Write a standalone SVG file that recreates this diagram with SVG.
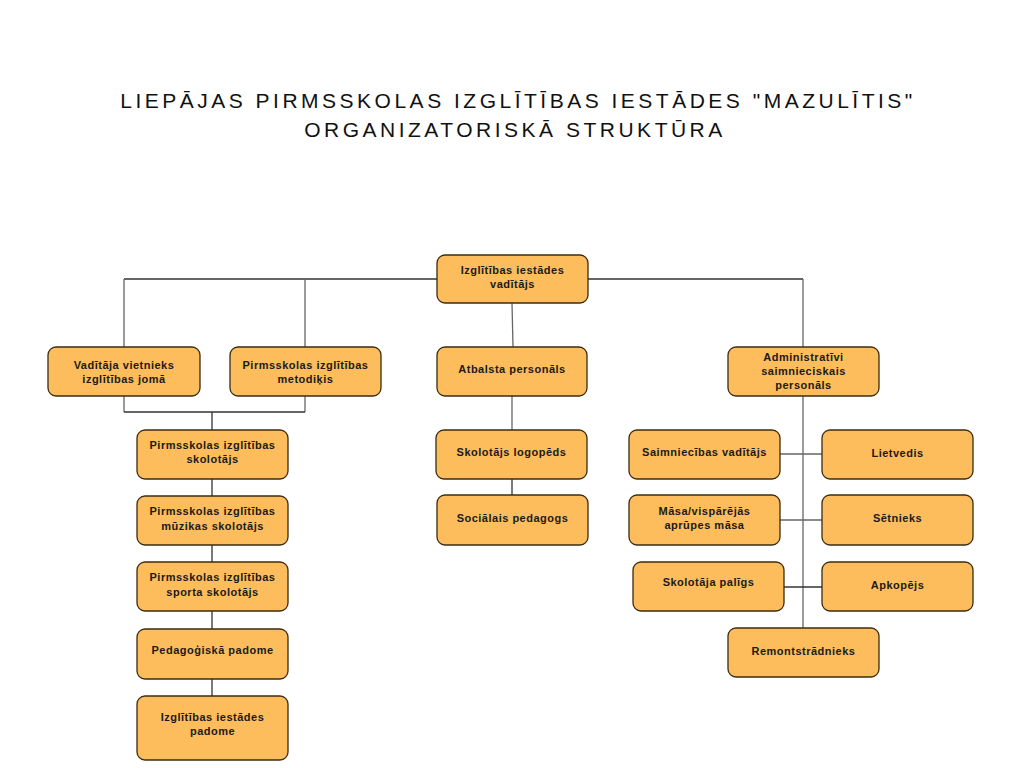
<svg xmlns="http://www.w3.org/2000/svg" width="1024" height="768" viewBox="0 0 1024 768">
<style>
.box{fill:#FDBD5C;stroke:#3b2c12;stroke-width:1.3}
.lbl{font-family:"Liberation Sans",Arial,sans-serif;font-weight:bold;font-size:11px;fill:#1a1a1a;text-anchor:middle;letter-spacing:0.5px}
.title{font-family:"Liberation Sans",Arial,sans-serif;font-size:21px;fill:#111;text-anchor:middle;letter-spacing:3.5px}
.ln{stroke:#333;stroke-width:1.3;fill:none}
.lg{stroke:#666;stroke-width:1.3;fill:none}
</style>
<rect width="1024" height="768" fill="#fff"/>
<g id="title">
<text class="title" x="518" y="108">LIEPĀJAS PIRMSSKOLAS IZGLĪTĪBAS IESTĀDES "MAZULĪTIS"</text>
<text class="title" x="515" y="137">ORGANIZATORISKĀ STRUKTŪRA</text>
</g>
<g id="connectors">
<path class="ln" d="M124,279 H437 M588,279 H803"/>
<path class="lg" d="M124,279 V347 M305,279 V347 M803,279 V347"/>
<path class="lg" d="M512,303 L513,347"/>
<path class="lg" d="M124,396 V412 M305,396 V412"/>
<path class="ln" d="M124,412 H305 M212,412 V430"/>
<path class="ln" d="M212,479 V496 M212,545 V562 M212,611 V629 M212,679 V696"/>
<path class="lg" d="M512,396 V430"/>
<path class="ln" d="M512,479 V495"/>
<path class="lg" d="M803,396 V628"/>
<path class="lg" d="M780,454 H822 M780,520 H822"/>
<path class="ln" d="M784,587 H822"/>
</g>
<g id="n-vaditajs"><rect class="box" x="437" y="255" width="151" height="48" rx="8"/><text class="lbl" x="512.5" y="274">Izglītības iestādes</text><text class="lbl" x="512.5" y="288">vadītājs</text></g>
<g id="n-vietnieks"><rect class="box" x="48" y="347" width="152" height="49" rx="8"/><text class="lbl" x="124" y="369">Vadītāja vietnieks</text><text class="lbl" x="124" y="383">izglītības jomā</text></g>
<g id="n-metodikis"><rect class="box" x="230" y="347" width="151" height="49" rx="8"/><text class="lbl" x="305.5" y="369">Pirmsskolas izglītības</text><text class="lbl" x="305.5" y="383">metodiķis</text></g>
<g id="n-atbalsta"><rect class="box" x="437" y="347" width="150" height="49" rx="8"/><text class="lbl" x="512" y="373">Atbalsta personāls</text></g>
<g id="n-admin"><rect class="box" x="728" y="347" width="151" height="49" rx="8"/><text class="lbl" x="803.5" y="361">Administratīvi</text><text class="lbl" x="803.5" y="375">saimnieciskais</text><text class="lbl" x="803.5" y="389">personāls</text></g>
<g id="n-skolotajs"><rect class="box" x="137" y="430" width="151" height="49" rx="8"/><text class="lbl" x="212.5" y="449">Pirmsskolas izglītības</text><text class="lbl" x="212.5" y="463">skolotājs</text></g>
<g id="n-muzikas"><rect class="box" x="137" y="496" width="151" height="49" rx="8"/><text class="lbl" x="212.5" y="515">Pirmsskolas izglītības</text><text class="lbl" x="212.5" y="530">mūzikas skolotājs</text></g>
<g id="n-sporta"><rect class="box" x="137" y="562" width="151" height="49" rx="8"/><text class="lbl" x="212.5" y="581">Pirmsskolas izglītības</text><text class="lbl" x="212.5" y="596">sporta skolotājs</text></g>
<g id="n-pedpadome"><rect class="box" x="137" y="629" width="151" height="50" rx="8"/><text class="lbl" x="212.5" y="654">Pedagoģiskā padome</text></g>
<g id="n-iestpadome"><rect class="box" x="137" y="696" width="151" height="64" rx="8"/><text class="lbl" x="212.5" y="721">Izglītības iestādes</text><text class="lbl" x="212.5" y="735">padome</text></g>
<g id="n-logopeds"><rect class="box" x="436" y="430" width="151" height="49" rx="8"/><text class="lbl" x="511.5" y="456">Skolotājs logopēds</text></g>
<g id="n-socped"><rect class="box" x="437" y="495" width="151" height="50" rx="8"/><text class="lbl" x="512.5" y="522">Sociālais pedagogs</text></g>
<g id="n-saimn"><rect class="box" x="629" y="430" width="151" height="49" rx="8"/><text class="lbl" x="704.5" y="456">Saimniecības vadītājs</text></g>
<g id="n-lietvedis"><rect class="box" x="822" y="430" width="151" height="49" rx="8"/><text class="lbl" x="897.5" y="457">Lietvedis</text></g>
<g id="n-masa"><rect class="box" x="629" y="495" width="151" height="50" rx="8"/><text class="lbl" x="704.5" y="515">Māsa/vispārējās</text><text class="lbl" x="704.5" y="529">aprūpes māsa</text></g>
<g id="n-setnieks"><rect class="box" x="822" y="495" width="151" height="50" rx="8"/><text class="lbl" x="897.5" y="522">Sētnieks</text></g>
<g id="n-paligs"><rect class="box" x="633" y="562" width="151" height="49" rx="8"/><text class="lbl" x="708.5" y="586">Skolotāja palīgs</text></g>
<g id="n-apkopejs"><rect class="box" x="822" y="562" width="151" height="49" rx="8"/><text class="lbl" x="897.5" y="589">Apkopējs</text></g>
<g id="n-remont"><rect class="box" x="728" y="628" width="151" height="49" rx="8"/><text class="lbl" x="803.5" y="655">Remontstrādnieks</text></g>
</svg>
